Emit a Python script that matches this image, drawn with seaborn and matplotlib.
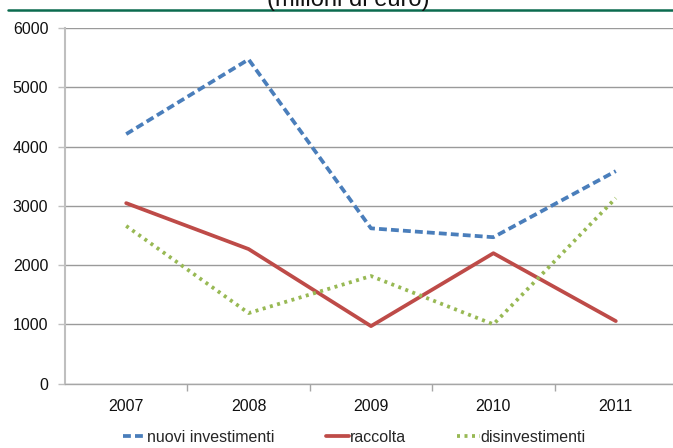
import matplotlib
matplotlib.use("Agg")
import matplotlib.pyplot as plt
from matplotlib import font_manager
from matplotlib.lines import Line2D
import seaborn as sns
import pandas as pd

years = ["2007", "2008", "2009", "2010", "2011"]
nuovi_investimenti = [4210, 5470, 2620, 2470, 3585]
raccolta = [3045, 2270, 970, 2200, 1055]
disinvestimenti = [2660, 1190, 1815, 1000, 3130]
yticks = [0, 1000, 2000, 3000, 4000, 5000, 6000]
title = "(milioni di euro)"

sns.set_theme(style="white")

names = {f.name for f in font_manager.fontManager.ttflist}
if "Liberation Sans Narrow" in names:
    fam = ["Liberation Sans Narrow", "DejaVu Sans"]
    fs = 13.4
    tfs = 21
else:
    fam = ["Liberation Sans", "DejaVu Sans"]
    fs = 11.5
    tfs = 17
plt.rcParams["font.family"] = fam

df = pd.DataFrame({
    "pos": list(range(len(years))),
    "anno": years,
    "nuovi investimenti": nuovi_investimenti,
    "raccolta": raccolta,
    "disinvestimenti": disinvestimenti,
})

W, H = 673, 448
fig = plt.figure(figsize=(W / 100, H / 100), dpi=100)
ax = fig.add_axes([65 / W, 1 - 383.6 / H, 612 / W, (383.6 - 28) / H])

lw = 2.7
sns.lineplot(data=df, x="pos", y="nuovi investimenti", ax=ax, color="#4a7ebb",
             linewidth=lw, label="nuovi investimenti")
ax.lines[-1].set_dashes((2.1, 1.1))
sns.lineplot(data=df, x="pos", y="raccolta", ax=ax, color="#be4b48",
             linewidth=lw, label="raccolta")
sns.lineplot(data=df, x="pos", y="disinvestimenti", ax=ax, color="#98b954",
             linewidth=lw, label="disinvestimenti")
ax.lines[-1].set_dashes((0.8, 1.2))

ax.set_xlim(-0.5, len(years) - 0.5)
ax.set_ylim(0, 6000)
ax.set_yticks(yticks)
ax.set_yticklabels([str(v) for v in yticks], fontsize=fs, color="#111111")
ax.set_xticks(range(len(years)))
ax.set_xticklabels(years, fontsize=fs, color="#111111")
ax.set_xticks([i + 0.5 for i in range(len(years) - 1)], minor=True)
ax.tick_params(axis="x", which="major", length=0, pad=11)
ax.tick_params(axis="x", which="minor", length=5, width=1, color="#a6a6a6", direction="out", bottom=True)
ax.tick_params(axis="y", which="major", length=5, width=1, color="#bfbfbf", direction="out", pad=7, left=True)
ax.set_xlabel("")
ax.set_ylabel("")

ax.grid(axis="y", color="#9a9a9a", linewidth=1.0)
ax.grid(axis="x", visible=False)
ax.set_axisbelow(True)
for s in ["top", "right"]:
    ax.spines[s].set_visible(False)
ax.spines["left"].set_color("#bfbfbf")
ax.spines["left"].set_linewidth(1.5)
ax.spines["bottom"].set_color("#a6a6a6")
ax.spines["bottom"].set_linewidth(1.0)

handles, labels = ax.get_legend_handles_labels()
ax.get_legend().remove()
fig.legend(handles, labels, loc="center", bbox_to_anchor=(354.5 / W, 1 - 437 / H),
           ncol=3, frameon=False, fontsize=fs, handlelength=1.45,
           handletextpad=0.05, columnspacing=3.2, borderaxespad=0, borderpad=0)

fig.add_artist(Line2D([8 / W, 1.0], [1 - 10.5 / H, 1 - 10.5 / H], transform=fig.transFigure,
                      color="#0b6b4f", linewidth=1.8))
fig.text(348 / W, 1 - 6 / H, title, ha="center", va="baseline", fontsize=tfs, color="#111111")

fig.savefig("out.png", dpi=100)
